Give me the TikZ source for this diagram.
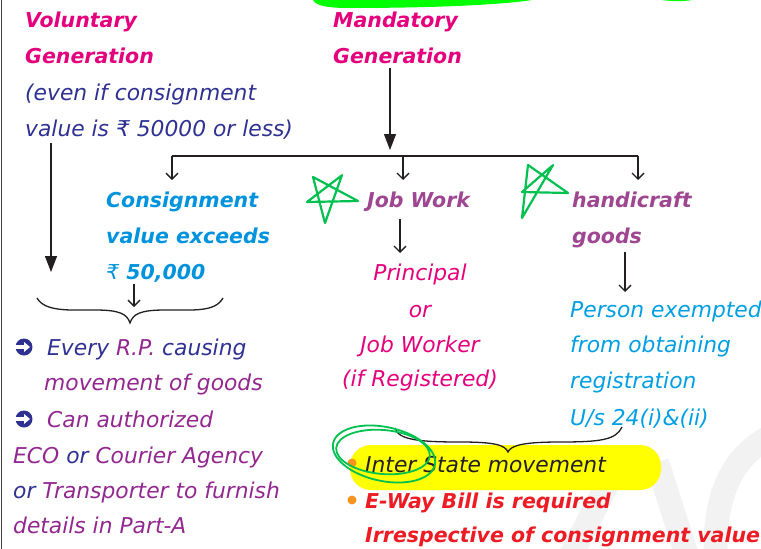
\documentclass[tikz,border=0pt]{standalone}
\usepackage{fontspec}
\setmainfont{DejaVu Sans}
\usetikzlibrary{arrows.meta}
\definecolor{headpink}{HTML}{E4007C}
\definecolor{navy}{HTML}{2E3192}
\definecolor{plum}{HTML}{92278F}
\definecolor{sky}{HTML}{0093DD}
\definecolor{skytext}{HTML}{009FE3}
\definecolor{jobpurple}{HTML}{9E4690}
\definecolor{billred}{HTML}{ED1C24}
\definecolor{dotorange}{HTML}{F7931E}
\definecolor{stargreen}{HTML}{00C050}
\definecolor{topgreen}{HTML}{00FF00}
\definecolor{marker}{HTML}{FFFF00}
\definecolor{inkblack}{HTML}{231F20}
\tikzset{
  txt/.style={anchor=base west, inner sep=0pt, font=\fontsize{21.8}{24}\selectfont\itshape},
  head/.style={txt, font=\fontsize{20.5}{24}\selectfont\bfseries\itshape},
  bigtip/.style={line width=1.3pt, inkblack, -{Triangle[length=16pt,width=12pt]}},
  opentip/.style={line width=1.3pt, inkblack, -{Straight Barb[length=6pt,width=12pt]}},
  starline/.style={draw=stargreen, line width=2.2pt, line join=round, line cap=round},
  dot/.style={circle, fill=dotorange, inner sep=0pt, minimum size=9pt},
  ball/.style={circle, fill=navy, inner sep=0pt, minimum size=17pt},
  wmark/.style={gray!10, line width=24pt},
}
\begin{document}
\begin{tikzpicture}[x=1pt,y=-1pt]
\useasboundingbox (0,0) rectangle (761,549);
% background marks
\begin{scope}
  \draw[wmark] (566,565) -- (622,455);\draw[wmark] (657,462) -- (690,565);
  \draw[wmark] (716,565) .. controls (712,495) and (732,452) .. (780,432);
  \fill[topgreen] (313,0) .. controls (316,6) and (328,8) .. (350,8) .. controls (430,8) and (500,5) .. (532,0) -- cycle;
  \fill[topgreen] (662,0) .. controls (672,1.5) and (684,1.5) .. (692,0) -- cycle;
  \fill[marker, rounded corners=21pt] (350,445) rectangle (661,490);
  \draw[black!75, line width=1.3pt] (1.5,0) -- (1.5,549);
\end{scope}
% left column
\node[head, headpink] (vol) at (25,27) {Voluntary};
\node[head, headpink] (volgen) at (25,63) {Generation};
\node[txt, navy] (evenif) at (25,100) {(even if consignment};
\node[txt, navy] (lessval) at (25,136) {value is ₹ 50000 or less)};
\node[head, sky] (cons) at (106,207) {Consignment};
\node[head, sky] (exceeds) at (106,243) {value exceeds};
\node[head, sky] (fifty) at (106,279) {{\mdseries ₹} 50,000};
\node[ball] (bullet1) at (24,347) {};\node[ball] (bullet2) at (24,419) {};
\foreach \b in {bullet1,bullet2}{
  \fill[white] ([xshift=-9pt,yshift=-2pt]\b.center) rectangle ([xshift=1pt,yshift=2pt]\b.center);
  \fill[white] ([xshift=0pt,yshift=-5pt]\b.center) -- ([xshift=6pt]\b.center) -- ([xshift=0pt,yshift=5pt]\b.center) -- cycle;
}
\node[txt, navy] (rp) at (47,355) {Every \textcolor{plum}{R.P.} causing};
\node[txt, plum] (movt) at (44,390) {movement of goods};
\node[txt, plum] (canauth) at (47,427) {Can authorized};
\node[txt, plum] (courier) at (13,463) {ECO \textcolor{navy}{or} Courier Agency};
\node[txt, plum] (transp) at (13,498) {\textcolor{navy}{or} Transporter to furnish};
\node[txt, plum] (parta) at (13,533) {details in Part-A};
% mandatory branch
\node[head, headpink] (mand) at (333,27) {Mandatory};
\node[head, headpink] (mandgen) at (333,63) {Generation};
\node[head, jobpurple] (jobwork) at (367,207) {Job Work};
\node[txt, headpink, anchor=base] (principal) at (420,280) {Principal};
\node[txt, headpink, anchor=base] (ornode) at (420,317) {or};
\node[txt, headpink, anchor=base] (worker) at (420,352) {Job Worker};
\node[txt, headpink, anchor=base] (ifreg) at (420,386) {(if Registered)};
\node[head, jobpurple] (handi) at (572,207) {handicraft};
\node[head, jobpurple] (goods) at (572,243) {goods};
\begin{scope}[every node/.append style={font=\fontsize{21.2}{24}\selectfont\itshape}]
\node[txt, skytext] (person) at (570,317) {Person exempted};
\node[txt, skytext] (obtain) at (570,352) {from obtaining};
\node[txt, skytext] (regn) at (570,388) {registration};
\node[txt, skytext] (usec) at (570,425) {U/s 24(i)\&(ii)};
\end{scope}
\node[dot] (dot1) at (352,463) {};\node[dot] (dot2) at (352,500) {};
\node[txt, inkblack] (inter) at (365,472) {Inter State movement};
\node[head, billred] (eway) at (365,508) {E-Way Bill is required};
\node[head, billred] (irresp) at (365,542) {Irrespective of consignment value};
% arrows
\coordinate (split) at (390,156);\coordinate (leftdrop) at (172,156);\coordinate (middrop) at (403,156);\coordinate (rightdrop) at (638,156);
\coordinate (volend) at (51,272);\coordinate (bracetop) at (134,307);\coordinate (jobdown) at (400,253);\coordinate (handidown) at (625,292);
\draw[bigtip, shorten <=5pt, shorten >=6pt] (mandgen.south -| split) -- (split);
\draw[line width=1.3pt, inkblack] (leftdrop) -- (rightdrop);
\draw[opentip] (leftdrop) -- ++(0,24);\draw[opentip] (middrop) -- ++(0,24);\draw[opentip] (rightdrop) -- ++(0,24);
\draw[bigtip, shorten <=4pt] (lessval.south -| volend) -- (volend);
\draw[opentip, shorten <=2pt] (fifty.south -| bracetop) -- (bracetop);
\draw[opentip, shorten <=8pt] (jobwork.south -| jobdown) -- (jobdown);
\draw[opentip, shorten <=4pt] (goods.south -| handidown) -- (handidown);
% braces
\draw[line width=1.3pt, inkblack] (37,298) .. controls (45,312) and (70,310) .. (95,310) .. controls (120,310) and (127,314) .. (130,323) .. controls (133,314) and (140,310) .. (165,310) .. controls (195,310) and (215,312) .. (223,298);
\draw[line width=1.3pt, inkblack] (395,428) .. controls (398,440) and (420,442) .. (460,442) .. controls (495,442) and (505,445) .. (508,452) .. controls (511,445) and (525,442) .. (560,442) .. controls (600,442) and (616,440) .. (622,427);
% stars and loops
\draw[starline] (342,175) -- (325,223) -- (313,177) -- (358,201) -- (307,202) -- (341,176);
\draw[starline] (553,165) -- (522,218) -- (528,165) -- (568,193) -- (522,192) -- (552,166);
\draw[starline, line width=1.8pt, rotate around={-12:(384,454)}] (384,454) ellipse [x radius=52pt, y radius=27pt];
\draw[starline, line width=1.8pt, rotate around={-5:(383,452)}] (383,452) ellipse [x radius=47pt, y radius=22pt];
\end{tikzpicture}
\end{document}
